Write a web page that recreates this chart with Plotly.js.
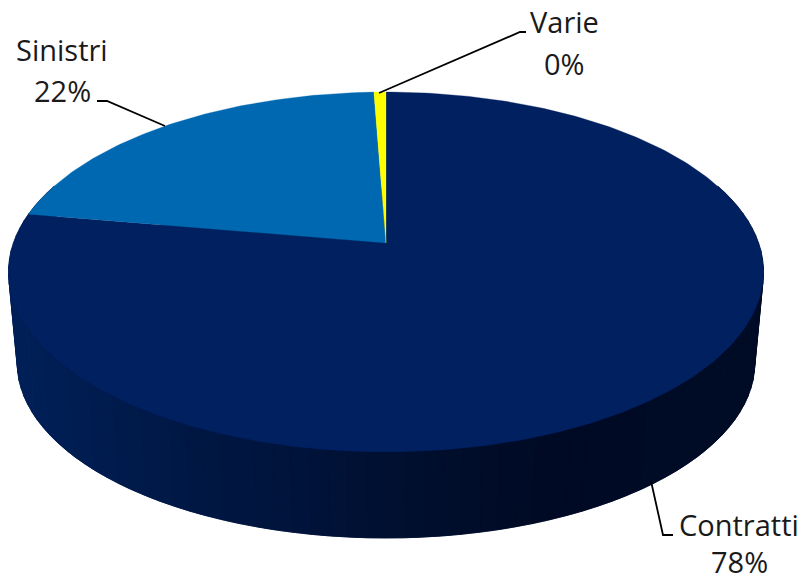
<!DOCTYPE html>
<html>
<head>
<meta charset="utf-8">
<script src="https://cdn.plot.ly/plotly-3.0.1.min.js"></script>
<style>html,body{margin:0;padding:0;background:#fff}#chart{width:805px;height:581px}</style>
</head>
<body>
<div id="chart"></div>
<script>
// Data
const categories = ["Contratti", "Sinistri", "Varie"];
const values = [77.7, 21.7, 0.6];
const percentLabels = ["78%", "22%", "0%"];

// Styles
const sliceColors = ["#002060", "#0068B0", "#FFFF00"];
const wallStops = [[17, [0,32,88]], [130, [0,26,74]], [300, [0,19,58]], [420, [0,15,46]], [540, [0,10,36]], [755, [0,11,38]]];

// Projection of the tilted disc (top face and bottom face)
const topFace = {cx: 386, cy: 243, R: 372.6, H: 175.3, k: 0.161};
const bottomFace = {cx: 386, cy: 335, R: 364, H: 170.5, k: 0.16};
function project(face, deg) {
  const t = deg * Math.PI / 180, u = Math.sin(t), v = -Math.cos(t), s = 1 / (1 - face.k * v);
  return [face.cx + face.R * u * s, face.cy + face.H * v * s];
}
function wallColor(x) {
  for (let i = 1; i < wallStops.length; i++) {
    if (x <= wallStops[i][0]) {
      const a = wallStops[i-1], b = wallStops[i], f = Math.max(0, (x - a[0]) / (b[0] - a[0]));
      return "rgb(" + a[1].map((c, j) => Math.round(c + (b[1][j] - c) * f)).join(",") + ")";
    }
  }
  return "rgb(" + wallStops[wallStops.length-1][1].join(",") + ")";
}
function poly(pts, color, lw) {
  return {type: "scatter", mode: "lines", x: pts.map(p => p[0]), y: pts.map(p => p[1]), fill: "toself",
    fillcolor: color, line: {color: color, width: lw}, hoverinfo: "skip", showlegend: false};
}

const traces = [];
// bottom face
const bottomPts = [];
for (let d = 0; d <= 360; d += 2) bottomPts.push(project(bottomFace, d));
traces.push(poly(bottomPts, wallColor(300), 0.5));
// side wall
for (let d = 70; d < 290; d += 2.5) {
  const a = project(topFace, d), b = project(topFace, d + 2.5), c = project(bottomFace, d + 2.5), e = project(bottomFace, d);
  traces.push(poly([a, b, c, e, a], wallColor((a[0] + b[0]) / 2), 0.8));
}
// top face slices
const total = values.reduce((a, b) => a + b, 0);
let start = 0;
values.forEach((val, i) => {
  const sweep = val / total * 360;
  const pts = [[topFace.cx, topFace.cy]];
  const n = Math.max(2, Math.ceil(sweep));
  for (let j = 0; j <= n; j++) pts.push(project(topFace, start + sweep * j / n));
  pts.push([topFace.cx, topFace.cy]);
  traces.push(poly(pts, sliceColors[i], 0.3));
  start += sweep;
});

// Leader lines
const leaders = [
  {x: [651, 663, 673], y: [481, 535, 535]},
  {x: [97, 107, 165], y: [101, 101, 126]},
  {x: [379, 520, 526], y: [93, 32, 32]}
];
leaders.forEach(l => traces.push({type: "scatter", mode: "lines", x: l.x, y: l.y,
  line: {color: "#000000", width: 1.8}, hoverinfo: "skip", showlegend: false}));

// Labels
const labelX = [739, 62, 564];
const nameY = [524, 49, 21];
const pctY = [561, 90, 63];
const font = {family: "'Open Sans', 'Noto Sans', sans-serif", size: 29, color: "#1a1a1a"};
const annotations = [];
categories.forEach((c, i) => {
  annotations.push({x: labelX[i], y: nameY[i], xref: "x", yref: "y", text: c, showarrow: false, font: font, xanchor: "center", yanchor: "middle", height: 30});
  annotations.push({x: labelX[i], y: pctY[i], xref: "x", yref: "y", text: percentLabels[i], showarrow: false, font: font, xanchor: "center", yanchor: "middle", height: 30});
});

Plotly.newPlot("chart", traces, {
  width: 805, height: 581,
  margin: {l: 0, r: 0, t: 0, b: 0},
  paper_bgcolor: "#ffffff", plot_bgcolor: "#ffffff",
  showlegend: false,
  xaxis: {range: [0, 805], visible: false, fixedrange: true},
  yaxis: {range: [581, 0], visible: false, fixedrange: true},
  annotations: annotations
}, {displayModeBar: false, staticPlot: true});
</script>
</body>
</html>
